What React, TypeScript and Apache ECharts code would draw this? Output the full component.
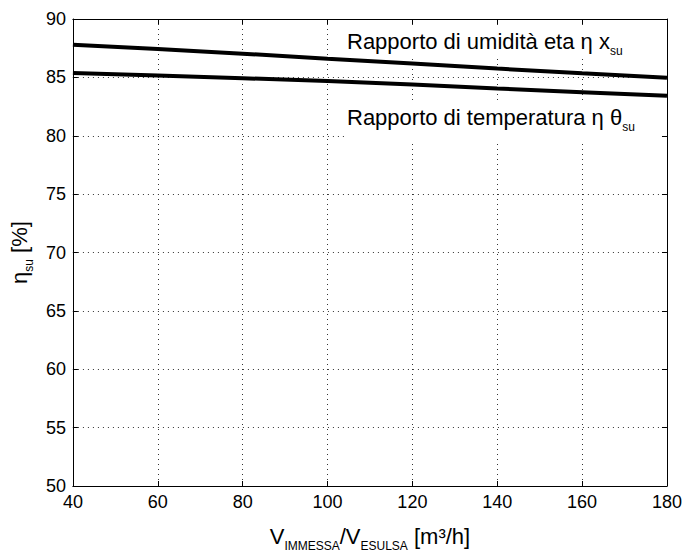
import React, { useEffect, useRef } from "react";
import * as echarts from "echarts";

const xValues = [40, 60, 80, 100, 120, 140, 160, 180];
const humidityRatio = [87.8, 87.42, 87.03, 86.6, 86.18, 85.75, 85.35, 84.97];
const temperatureRatio = [85.38, 85.15, 84.93, 84.68, 84.38, 84.05, 83.73, 83.42];
const xTicks = { min: 40, max: 180, interval: 20 };
const yTicks = { min: 50, max: 90, interval: 5 };

const FONT = "'Liberation Sans', Arial, Helvetica, sans-serif";

export default function App() {
  const ref = useRef<HTMLDivElement>(null);
  useEffect(() => {
    if (!ref.current) return;
    const chart = echarts.init(ref.current, undefined, { renderer: "svg" });
    const pairs = (ys: number[]) => xValues.map((x, i) => [x, ys[i]]);
    const gridLine = { show: true, lineStyle: { color: "#333", width: 1, type: [1, 4] as any } };
    const sub = (size: number) => ({
      fontSize: size, fontFamily: FONT, fill: "#000", color: "#000", lineHeight: size, verticalAlign: "bottom",
    });
    const main = (size: number, lh: number) => ({
      fontSize: size, fontFamily: FONT, fill: "#000", color: "#000", lineHeight: lh, verticalAlign: "middle",
    });
    chart.setOption({
      animation: false,
      backgroundColor: "#fff",
      grid: { left: 70, right: 17, top: 19, bottom: 64 },
      xAxis: [
        {
          type: "value", ...xTicks, position: "bottom",
          axisLine: { lineStyle: { color: "#000", width: 1 } },
          axisTick: { inside: true, length: 5, lineStyle: { color: "#000" } },
          axisLabel: { fontSize: 18, fontFamily: FONT, color: "#000", margin: 7 },
          splitLine: gridLine,
          name: "{m|V}{s|IMMESSA}{m|/V}{s|ESULSA}{m| [m³/h]}",
          nameLocation: "middle", nameGap: 34,
          nameTextStyle: { rich: { m: main(22, 32), s: sub(12) } },
        },
        {
          type: "value", ...xTicks, position: "top", z: 5,
          axisLine: { lineStyle: { color: "#000", width: 1 } },
          axisTick: { inside: true, length: 5, lineStyle: { color: "#000" } },
          axisLabel: { show: false }, splitLine: { show: false },
        },
      ],
      yAxis: [
        {
          type: "value", ...yTicks, position: "left",
          axisLine: { lineStyle: { color: "#000", width: 1 } },
          axisTick: { inside: true, length: 5, lineStyle: { color: "#000" } },
          axisLabel: { fontSize: 18, fontFamily: FONT, color: "#000", margin: 7 },
          splitLine: gridLine,
          name: "{m|η}{s|su}{g| }{m|[%]}",
          nameLocation: "middle", nameGap: 32, nameRotate: 90,
          nameTextStyle: { rich: { m: main(22, 32), s: sub(12), g: main(22, 32) } },
        },
        {
          type: "value", ...yTicks, position: "right", z: 5,
          axisLine: { lineStyle: { color: "#000", width: 1 } },
          axisTick: { inside: true, length: 5, lineStyle: { color: "#000" } },
          axisLabel: { show: false }, splitLine: { show: false },
        },
      ],
      graphic: [
        { type: "rect", z: 1, shape: { x: 345, y: 25, width: 317, height: 33 }, style: { fill: "#fff" } },
        { type: "rect", z: 1, shape: { x: 345, y: 100, width: 317, height: 40 }, style: { fill: "#fff" } },
        {
          type: "text", z: 2, x: 347, y: 25,
          style: {
            text: "{m|Rapporto di umidità eta η x}{s|su}",
            align: "left", verticalAlign: "top",
            rich: { m: main(22, 32), s: sub(12) },
          },
        },
        {
          type: "text", z: 2, x: 347, y: 101,
          style: {
            text: "{m|Rapporto di temperatura η θ}{s|su}",
            align: "left", verticalAlign: "top",
            rich: { m: main(22, 32), s: sub(12) },
          },
        },
      ],
      series: [
        {
          type: "line", name: "Rapporto di umidità", data: pairs(humidityRatio), z: 4,
          showSymbol: false, symbol: "none", lineStyle: { color: "#000", width: 4 },
        },
        {
          type: "line", name: "Rapporto di temperatura", data: pairs(temperatureRatio), z: 4,
          showSymbol: false, symbol: "none", lineStyle: { color: "#000", width: 4 },
        },
      ],
    });
    return () => chart.dispose();
  }, []);
  return (
    <div
      ref={ref}
      style={{ position: "absolute", left: 0, top: 0, width: 685, height: 557, background: "#fff" }}
    />
  );
}
